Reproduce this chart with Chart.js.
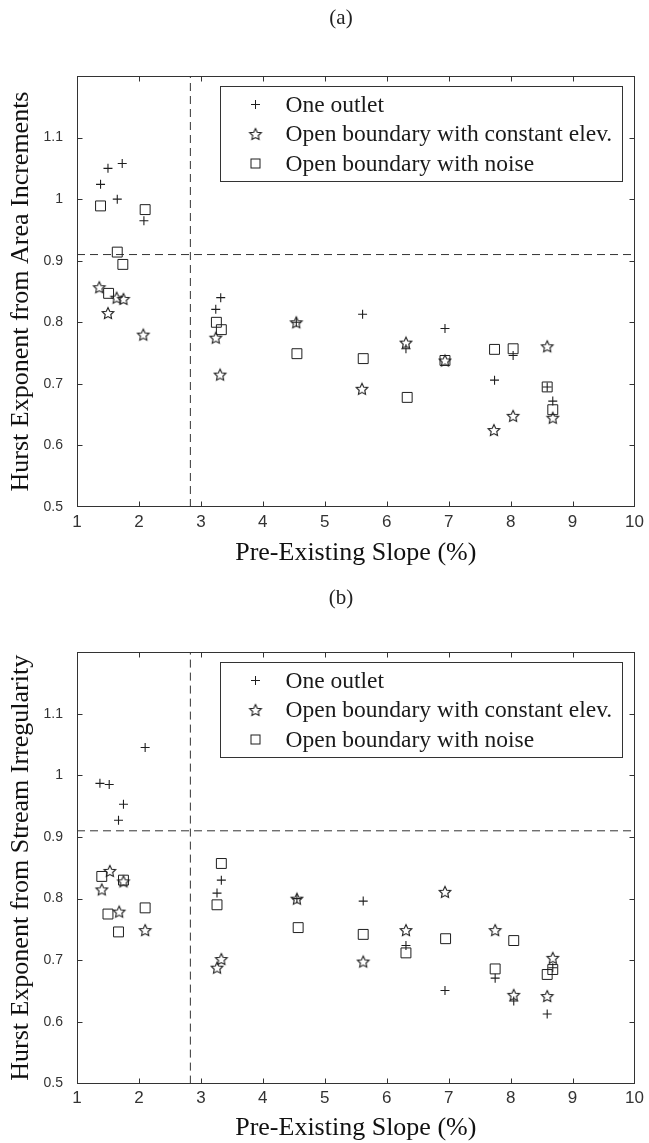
<!DOCTYPE html>
<html>
<head>
<meta charset="utf-8">
<script src="https://cdn.jsdelivr.net/npm/chart.js@4.4.1/dist/chart.umd.min.js"></script>
<style>
  html,body{margin:0;padding:0;background:#fff;}
  #wrap{position:relative;width:649px;height:1143px;overflow:hidden;background:#fff;}
  .cap{position:absolute;z-index:5;font-family:"Liberation Serif","Times New Roman",serif;font-size:21px;color:#222;transform:translateX(-50%);white-space:nowrap;}
  .box{position:absolute;left:0;width:649px;z-index:1;}
</style>
</head>
<body>
<div id="wrap">
  <div class="box" style="top:0;height:575px;"><canvas id="ca"></canvas></div>
  <div class="box" style="top:575px;height:568px;"><canvas id="cb"></canvas></div>
  <div class="cap" style="left:341px;top:5px;">(a)</div>
  <div class="cap" style="left:341px;top:585px;">(b)</div>
</div>
<script>
// ---------------- data ----------------
const seriesLabels = ["One outlet", "Open boundary with constant elev.", "Open boundary with noise"];
const xAxisTitle = "Pre-Existing Slope (%)";
const yTitleA = "Hurst Exponent from Area Increments";
const yTitleB = "Hurst Exponent from Stream Irregularity";
const xTickValues = [1,2,3,4,5,6,7,8,9,10];
const yTickValues = [0.5,0.6,0.7,0.8,0.9,1.0,1.1];
const refSlope = 2.83;
const refHurst = 0.91;

// (a) Area increments
const outletA_x = [1.38,1.50,1.65,1.73,2.08,3.24,3.32,4.54,5.61,6.31,6.94,7.74,8.04,8.59,8.68];
const outletA_y = [1.024,1.050,1.000,1.058,0.965,0.821,0.840,0.800,0.813,0.757,0.790,0.706,0.746,0.695,0.672];
const starA_x   = [1.36,1.50,1.64,1.75,2.07,3.24,3.31,4.54,5.60,6.31,6.94,7.73,8.04,8.59,8.68];
const starA_y   = [0.857,0.815,0.840,0.838,0.780,0.775,0.715,0.800,0.692,0.767,0.738,0.625,0.648,0.761,0.645];
const noiseA_x  = [1.38,1.51,1.65,1.74,2.10,3.25,3.33,4.55,5.62,6.33,6.94,7.74,8.04,8.59,8.68];
const noiseA_y  = [0.989,0.847,0.914,0.894,0.983,0.800,0.788,0.749,0.741,0.678,0.738,0.756,0.757,0.695,0.658];

// (b) Stream irregularity
const outletB_x = [1.37,1.52,1.67,1.75,2.10,3.26,3.33,4.55,5.62,6.31,6.94,7.75,8.05,8.59,8.68];
const outletB_y = [0.987,0.985,0.927,0.953,1.045,0.809,0.830,0.800,0.796,0.724,0.651,0.671,0.634,0.613,0.688];
const starB_x   = [1.40,1.53,1.68,1.75,2.10,3.26,3.33,4.55,5.62,6.31,6.94,7.75,8.05,8.59,8.68];
const starB_y   = [0.815,0.845,0.779,0.828,0.749,0.688,0.702,0.800,0.698,0.749,0.811,0.749,0.644,0.642,0.704];
const noiseB_x  = [1.40,1.50,1.67,1.75,2.10,3.26,3.33,4.57,5.62,6.31,6.95,7.75,8.05,8.59,8.68];
const noiseB_y  = [0.836,0.775,0.746,0.830,0.785,0.790,0.857,0.753,0.742,0.712,0.735,0.686,0.732,0.677,0.685];

// ---------------- styling ----------------
const INK = '#1e1e1e';
const SERIF = '"Liberation Serif","Times New Roman",serif';
const SANS = '"Liberation Sans",Arial,sans-serif';

function makeStar(r){
  const s = 16, c = document.createElement('canvas');
  c.width = s; c.height = s;
  const g = c.getContext('2d');
  g.strokeStyle = INK; g.lineWidth = 1.1; g.lineJoin = 'miter';
  g.beginPath();
  for (let i = 0; i < 10; i++) {
    const ang = -Math.PI/2 + i*Math.PI/5;
    const rr = (i % 2) ? r*0.48 : r;
    g.lineTo(s/2 + rr*Math.cos(ang), s/2 + 0.6 + rr*Math.sin(ang));
  }
  g.closePath(); g.stroke();
  return c;
}
const starImg = makeStar(6.1);

function zip(xs, ys){ return xs.map((v,i)=>({x:v, y:ys[i]})); }

const boxPlugin = {
  id: 'matlabBox',
  beforeDraw(chart){
    const ctx = chart.ctx;
    ctx.save(); ctx.fillStyle = '#fff'; ctx.fillRect(0,0,chart.width,chart.height); ctx.restore();
  },
  afterDatasetsDraw(chart){
    const {ctx, chartArea:a, scales:{x, y}} = chart;
    ctx.save();
    ctx.strokeStyle = '#333'; ctx.lineWidth = 1;
    const L = Math.round(a.left)+0.5, R = Math.round(a.right)-0.5, T = Math.round(a.top)+0.5, B = Math.round(a.bottom)-0.5;
    ctx.strokeRect(L, T, R-L, B-T);
    const tl = 5;
    ctx.beginPath();
    x.ticks.forEach(t => {
      const px = Math.round(x.getPixelForValue(t.value))+0.5;
      if (px <= L+1 || px >= R-1) return;
      ctx.moveTo(px, B); ctx.lineTo(px, B-tl);
      ctx.moveTo(px, T); ctx.lineTo(px, T+tl);
    });
    y.ticks.forEach(t => {
      const py = Math.round(y.getPixelForValue(t.value))+0.5;
      if (py <= T+1 || py >= B-1) return;
      ctx.moveTo(L, py); ctx.lineTo(L+tl, py);
      ctx.moveTo(R, py); ctx.lineTo(R-tl, py);
    });
    ctx.stroke();

    // legend box
    const bx = Math.round(a.left + 143)+0.5, by = Math.round(a.top + 9.5)+0.5, bw = 402, bh = 95;
    ctx.fillStyle = '#fff';
    ctx.fillRect(bx, by, bw, bh);
    ctx.strokeRect(bx, by, bw, bh);
    ctx.font = '23.5px ' + SERIF;
    ctx.textBaseline = 'middle'; ctx.textAlign = 'left';
    for (let i = 0; i < 3; i++) {
      const ds = chart.data.datasets[i];
      const cy = by + 18 + 29.5*i;
      const cx = bx + 35;
      ctx.strokeStyle = INK; ctx.lineWidth = 1;
      if (ds.pointStyle === 'cross') {
        ctx.beginPath();
        ctx.moveTo(cx-4.5, cy); ctx.lineTo(cx+4.5, cy);
        ctx.moveTo(cx, cy-4.5); ctx.lineTo(cx, cy+4.5);
        ctx.stroke();
      } else if (ds.pointStyle === 'rect') {
        ctx.strokeRect(cx-4.5, cy-4.5, 9, 9);
      } else {
        ctx.drawImage(ds.pointStyle, cx - 8, cy - 8);
      }
      ctx.fillStyle = '#1a1a1a';
      ctx.fillText(ds.label, bx + 65, cy + 1);
    }
    ctx.restore();
  }
};

function buildChart(canvasId, yTitle, oX, oY, sX, sY, nX, nY, padTop, xAxisH, xTitlePad){
  const ptBase = {type:'scatter', showLine:false, borderColor:INK, backgroundColor:'rgba(0,0,0,0)', pointBorderWidth:1, pointHoverRadius:0};
  return new Chart(document.getElementById(canvasId), {
    type: 'scatter',
    data: {
      datasets: [
        Object.assign({}, ptBase, {label: seriesLabels[0], data: zip(oX,oY), pointStyle:'cross', pointRadius:4.5, pointBorderWidth:1.1}),
        Object.assign({}, ptBase, {label: seriesLabels[1], data: zip(sX,sY), pointStyle:starImg, pointRadius:6}),
        Object.assign({}, ptBase, {label: seriesLabels[2], data: zip(nX,nY), pointStyle:'rect', pointRadius:7}),
        {type:'line', label:'_v', data:[{x:refSlope,y:0.5},{x:refSlope,y:1.2}], borderColor:'#333', borderWidth:1, borderDash:[8,5], pointRadius:0, fill:false},
        {type:'line', label:'_h', data:[{x:1,y:refHurst},{x:10,y:refHurst}], borderColor:'#333', borderWidth:1, borderDash:[8,5], pointRadius:0, fill:false}
      ]
    },
    options: {
      responsive: true,
      maintainAspectRatio: false,
      animation: false,
      events: [],
      layout: {padding: {top: padTop, right: 13, left: 0, bottom: 0}},
      plugins: {legend: {display:false}, tooltip: {enabled:false}},
      scales: {
        x: {
          type: 'linear', min: 1, max: 10,
          afterBuildTicks(s){ s.ticks = xTickValues.map(v=>({value:v})); },
          grid: {display:false, drawTicks:false},
          border: {display:false},
          ticks: {color:'#333', font:{family:SANS, size:17}, padding:5, callback:v=>String(v)},
          title: {display:true, text:xAxisTitle, color:'#111', font:{family:SERIF, size:26, lineHeight:1}, padding:{top:0, bottom:xTitlePad}},
          afterFit(s){ s.height = xAxisH; }
        },
        y: {
          type: 'linear', min: 0.5, max: 1.2,
          afterBuildTicks(s){ s.ticks = yTickValues.map(v=>({value:v})); },
          grid: {display:false, drawTicks:false},
          border: {display:false},
          ticks: {color:'#333', font:{family:SANS, size:14}, padding:14, callback:v=>String(Math.round(v*10)/10)},
          title: {display:true, text:yTitle, color:'#111', font:{family:SERIF, size:26, lineHeight:1}, padding:{top:8, bottom:0}},
          afterFit(s){ s.width = 77; }
        }
      }
    },
    plugins: [boxPlugin]
  });
}

buildChart('ca', yTitleA, outletA_x, outletA_y, starA_x, starA_y, noiseA_x, noiseA_y, 76, 68, 9);
buildChart('cb', yTitleB, outletB_x, outletB_y, starB_x, starB_y, noiseB_x, noiseB_y, 77, 59.4, 2);
</script>
</body>
</html>
